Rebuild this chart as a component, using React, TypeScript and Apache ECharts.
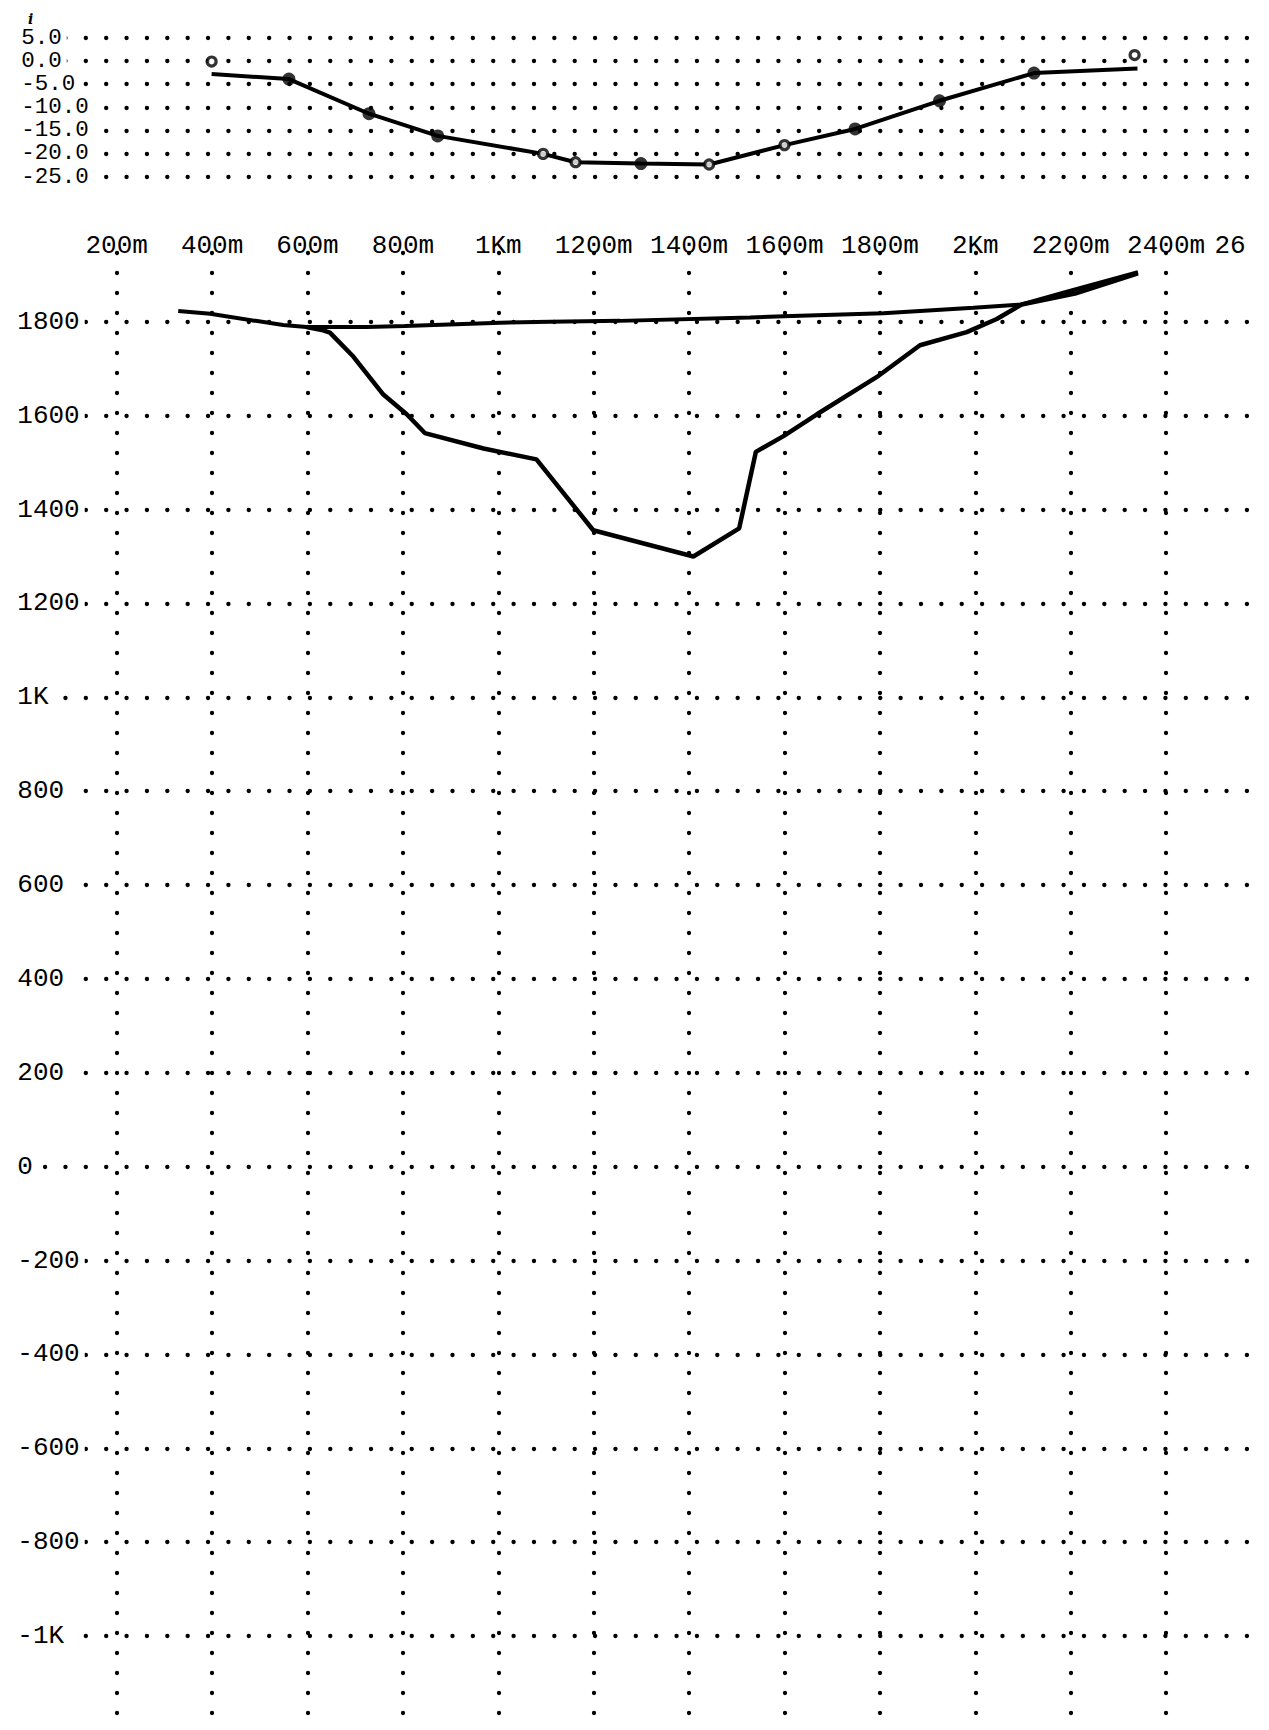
import React, { useEffect, useRef } from 'react';
import * as echarts from 'echarts';

// ---------- data ----------
const xTicks = [0, 200, 400, 600, 800, 1000, 1200, 1400, 1600, 1800, 2000, 2200, 2400, 2600];
const xTickLabels = ['', '200m', '400m', '600m', '800m', '1Km', '1200m', '1400m', '1600m', '1800m', '2Km', '2200m', '2400m', '26'];

const gravTicks = [-25, -20, -15, -10, -5, 0, 5];
const gravTickLabels = ['-25.0', '-20.0', '-15.0', '-10.0', '-5.0', '0.0', '5.0'];

const elevTicks = [-1000, -800, -600, -400, -200, 0, 200, 400, 600, 800, 1000, 1200, 1400, 1600, 1800];
const elevTickLabels = ['-1K', '-800', '-600', '-400', '-200', '0', '200', '400', '600', '800', '1K', '1200', '1400', '1600', '1800'];

// upper panel: fitted curve
const gravLineX = [399, 561, 729, 873, 1094, 1162, 1299, 1442, 1600, 1748, 1925, 2123, 2340];
const gravLineY = [-2.8, -3.9, -11.4, -16.2, -20.1, -21.9, -22.2, -22.4, -18.2, -14.7, -8.6, -2.6, -1.6];
// upper panel: filled stations
const gravFilledX = [561, 729, 873, 1299, 1748, 1925, 2123];
const gravFilledY = [-3.9, -11.4, -16.2, -22.2, -14.7, -8.6, -2.6];
// upper panel: open stations
const gravOpenX = [399, 1094, 1162, 1442, 1600, 2334];
const gravOpenY = [-0.1, -20.1, -21.9, -22.4, -18.2, 1.3];

// lower panel: surface profile
const topoX = [329, 396, 549, 598, 724, 804, 1004, 1108, 1255, 1528, 1598, 1807, 1996, 2097, 2192, 2341];
const topoY = [1823, 1817, 1793, 1789, 1789, 1791, 1798, 1800, 1802, 1809, 1812, 1818, 1830, 1837, 1864, 1906];
// lower panel: basin floor
const basinX = [598, 633, 647, 696, 759, 808, 846, 969, 1080, 1199, 1409, 1505, 1540, 1597, 1668, 1793, 1884, 1982, 2045, 2097, 2209, 2341];
const basinY = [1789, 1782, 1777, 1726, 1645, 1603, 1563, 1530, 1507, 1356, 1300, 1360, 1523, 1556, 1603, 1682, 1750, 1778, 1806, 1837, 1860, 1903];

const zip = (xs: number[], ys: number[]) => xs.map((x, i) => [x, ys[i]]);

const FONT = 'Liberation Mono';

function lookup(ticks: number[], labels: string[], v: number) {
  const i = ticks.findIndex((t) => Math.abs(t - v) < 1e-6);
  return i < 0 ? '' : labels[i];
}

export default function App() {
  const ref = useRef<HTMLDivElement>(null);

  useEffect(() => {
    if (!ref.current) return;
    const chart = echarts.init(ref.current, null, { renderer: 'svg' });

    const dotH = { color: '#000', width: 4.3, type: [0.1, 20.27], dashOffset: 17.4, cap: 'round' };
    const dotV = { color: '#000', width: 4.3, type: [0.1, 19.9], dashOffset: 0, cap: 'round' };

    const option: any = {
      animation: false,
      backgroundColor: '#fff',
      title: {
        text: 'i', left: 28, top: 13, padding: 0,
        textStyle: { fontFamily: 'DejaVu Serif', fontSize: 14, lineHeight: 12, fontWeight: 'bold', fontStyle: 'italic', color: '#000' },
      },
      grid: [
        // rows from -30 to 10; only -25 … 5 are drawn
        { left: 21.3, right: 7.5, top: 14.92, height: 184.67 },
        { left: 21.3, right: 7.5, top: 253, bottom: -25.5 },
      ],
      xAxis: [
        {
          gridIndex: 0, type: 'value', min: 0, max: 2600, interval: 200,
          axisLine: { show: false }, axisTick: { show: false }, axisLabel: { show: false },
          splitLine: { show: false },
        },
        {
          gridIndex: 1, type: 'value', position: 'top', min: 0, max: 2600, interval: 200,
          axisLine: { show: false }, axisTick: { show: false },
          axisLabel: {
            show: true, showMaxLabel: true, showMinLabel: true,
            margin: 7, verticalAlign: 'middle',
            fontFamily: FONT, fontSize: 26, color: '#000',
            formatter: (v: number) => {
              const s = lookup(xTicks, xTickLabels, v);
              return v === 2600 ? '{cut|' + s + '}' : s;
            },
            rich: { cut: { fontFamily: FONT, fontSize: 26, color: '#000', padding: [0, 63, 0, 0] } },
          },
          splitLine: { show: true, showMinLine: false, showMaxLine: false, lineStyle: dotV },
        },
      ],
      yAxis: [
        {
          gridIndex: 0, type: 'value', min: -30, max: 10, interval: 5,
          axisLine: { show: false }, axisTick: { show: false },
          axisLabel: {
            inside: true, margin: 0, color: '#000',
            fontFamily: FONT, fontSize: 22.5, lineHeight: 20,
            backgroundColor: '#fff', padding: [0, 5, 0, 0],
            formatter: (v: number) => lookup(gravTicks, gravTickLabels, v),
          },
          splitLine: { show: true, showMinLine: false, showMaxLine: false, lineStyle: dotH },
        },
        {
          gridIndex: 1, type: 'value', min: -1200, max: 1946.6, interval: 200,
          axisLine: { show: false }, axisTick: { show: false },
          axisLabel: {
            inside: true, margin: -4, fontFamily: FONT, fontSize: 26, lineHeight: 24, color: '#000',
            backgroundColor: '#fff', padding: [0, 5, 0, 0],
            formatter: (v: number) => lookup(elevTicks, elevTickLabels, v),
          },
          splitLine: { show: true, showMinLine: false, showMaxLine: false, lineStyle: dotH },
        },
      ],
      series: [
        {
          type: 'line', xAxisIndex: 0, yAxisIndex: 0, data: zip(gravLineX, gravLineY),
          symbol: 'none', lineStyle: { color: '#000', width: 4 }, z: 2,
        },
        {
          type: 'scatter', xAxisIndex: 0, yAxisIndex: 0, data: zip(gravFilledX, gravFilledY),
          symbol: 'circle', symbolSize: 13, itemStyle: { color: '#000' }, z: 3,
        },
        {
          type: 'scatter', xAxisIndex: 0, yAxisIndex: 0, data: zip(gravOpenX, gravOpenY),
          symbol: 'circle', symbolSize: 9, itemStyle: { color: '#fff', borderColor: '#000', borderWidth: 3.2 }, z: 3,
        },
        {
          type: 'line', xAxisIndex: 1, yAxisIndex: 1, data: zip(topoX, topoY),
          symbol: 'none', lineStyle: { color: '#000', width: 4 }, z: 2,
        },
        {
          type: 'line', xAxisIndex: 1, yAxisIndex: 1, data: zip(basinX, basinY),
          symbol: 'none', lineStyle: { color: '#000', width: 4.5 }, z: 2,
        },
      ],
    };

    chart.setOption(option);
    return () => chart.dispose();
  }, []);

  return (
    <div
      ref={ref}
      style={{ position: 'absolute', left: 0, top: 0, width: 1269, height: 1730, background: '#fff' }}
    />
  );
}
